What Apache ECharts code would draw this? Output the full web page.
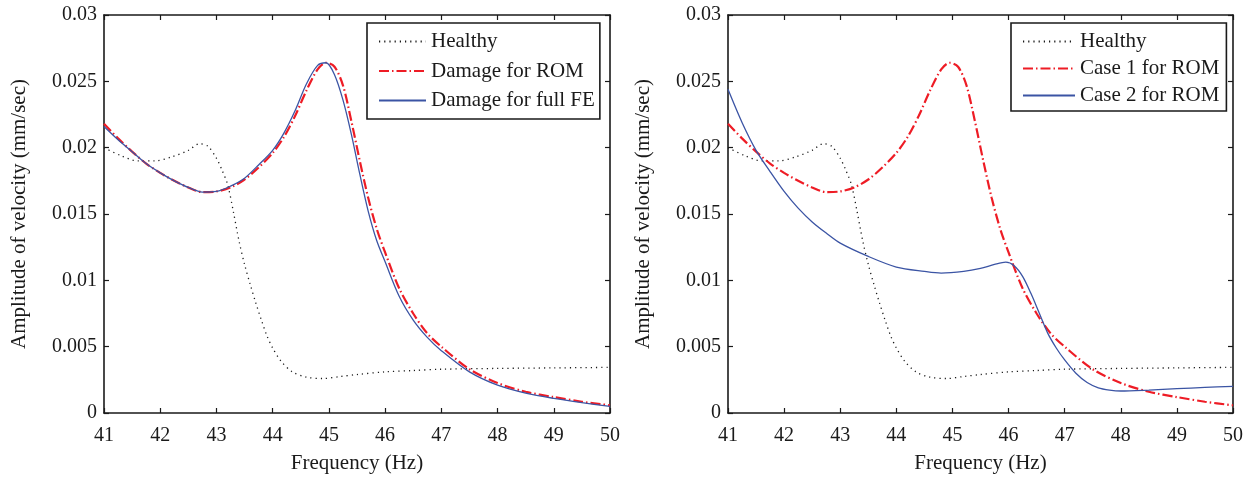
<!DOCTYPE html>
<html>
<head>
<meta charset="utf-8">
<script src="https://cdn.jsdelivr.net/npm/echarts@6/dist/echarts.min.js"></script>
<style>
html,body{margin:0;padding:0;background:#fff;}
#chart{width:1259px;height:484px;}
</style>
</head>
<body>
<div id="chart"></div>
<script>
// ---- data ----
const xTickLabels = ['41','42','43','44','45','46','47','48','49','50'];
const yTickLabels = ['0','0.005','0.01','0.015','0.02','0.025','0.03'];

const healthyX = [41, 41.3, 41.6, 41.9, 42.2, 42.5, 42.7, 42.85, 43.0, 43.1, 43.2, 43.3, 43.4, 43.5, 43.6, 43.7, 43.8, 43.9, 44.0, 44.15, 44.35, 44.6, 44.9, 45.2, 45.5, 46, 46.5, 47, 48, 49, 50];
const healthyY = [0.0200, 0.0194, 0.0190, 0.0190, 0.0193, 0.0198, 0.0203, 0.0201, 0.0192, 0.0183, 0.0172, 0.0152, 0.0130, 0.0112, 0.0097, 0.0083, 0.0070, 0.0058, 0.0049, 0.0039, 0.0031, 0.0027, 0.0026, 0.00275, 0.0029, 0.0031, 0.0032, 0.0033, 0.00336, 0.0034, 0.00344];

const damageX = [41, 41.25, 41.5, 41.75, 42, 42.25, 42.5, 42.75, 43, 43.25, 43.5, 43.75, 44, 44.2, 44.4, 44.6, 44.8, 44.95, 45.1, 45.25, 45.4, 45.55, 45.7, 45.85, 46, 46.25, 46.5, 46.75, 47, 47.5, 48, 48.5, 49, 49.5, 50];
const romDamageY = [0.0218, 0.0207, 0.0197, 0.0188, 0.0181, 0.0175, 0.0170, 0.01665, 0.0167, 0.0170, 0.0176, 0.0185, 0.0196, 0.0208, 0.0224, 0.0243, 0.0259, 0.0264, 0.0261, 0.0247, 0.0220, 0.0190, 0.0162, 0.0139, 0.0121, 0.0094, 0.0075, 0.0060, 0.0050, 0.0033, 0.00226, 0.0016, 0.0012, 0.00085, 0.00058];
const fullFeDamageY = [0.0216, 0.0206, 0.0197, 0.0188, 0.0181, 0.0175, 0.0170, 0.01665, 0.0167, 0.0171, 0.0177, 0.0187, 0.0198, 0.0211, 0.0228, 0.0248, 0.0262, 0.0264, 0.0255, 0.0236, 0.0210, 0.0180, 0.0152, 0.0130, 0.0114, 0.0088, 0.0070, 0.0057, 0.0047, 0.0031, 0.0021, 0.0015, 0.0011, 0.00078, 0.0005];

const case2X = [41, 41.25, 41.5, 41.75, 42, 42.25, 42.5, 42.75, 43, 43.5, 44, 44.5, 44.8, 45.2, 45.5, 45.75, 45.95, 46.1, 46.25, 46.4, 46.55, 46.7, 46.85, 47, 47.2, 47.4, 47.6, 47.8, 48, 48.5, 49, 49.5, 50];
const case2Y = [0.0244, 0.0219, 0.0198, 0.0182, 0.0167, 0.01544, 0.0144, 0.01356, 0.0128, 0.0118, 0.0110, 0.01067, 0.01054, 0.01067, 0.0109, 0.0112, 0.01137, 0.0111, 0.0103, 0.0090, 0.0075, 0.0060, 0.0049, 0.0040, 0.0030, 0.0023, 0.0019, 0.00173, 0.00166, 0.00173, 0.00183, 0.00193, 0.0020];

// ---- helpers ----
const zip = (xs, ys) => xs.map((x, i) => [x, ys[i]]);
const FONT = 'Liberation Serif';
const BLACK = '#1a1a1a';
const RED = '#ee1c25';
const BLUE = '#3b54a4';

function mainX(grid) {
  return {
    type: 'value', gridIndex: grid, min: 41, max: 50, interval: 1,
    name: 'Frequency (Hz)', nameLocation: 'middle', nameGap: 40,
    nameTextStyle: { fontFamily: FONT, fontSize: 21, color: BLACK },
    axisLine: { show: true, onZero: false, lineStyle: { color: BLACK, width: 1.6 } },
    axisTick: { show: true, inside: true, length: 5, lineStyle: { color: BLACK, width: 1.2 } },
    axisLabel: { margin: 13, fontFamily: FONT, fontSize: 20, color: BLACK,
      formatter: v => xTickLabels[Math.round(v - 41)] },
    splitLine: { show: false }
  };
}
function topX(grid) {
  return {
    type: 'value', gridIndex: grid, position: 'top', min: 41, max: 50, interval: 1,
    axisLine: { show: true, onZero: false, lineStyle: { color: BLACK, width: 1.6 } },
    axisTick: { show: true, inside: true, length: 5, lineStyle: { color: BLACK, width: 1.2 } },
    axisLabel: { show: false }, splitLine: { show: false }
  };
}
function mainY(grid) {
  return {
    type: 'value', gridIndex: grid, min: 0, max: 0.03, interval: 0.005,
    name: 'Amplitude of velocity (mm/sec)', nameLocation: 'middle', nameGap: 74,
    nameTextStyle: { fontFamily: FONT, fontSize: 21, color: BLACK },
    axisLine: { show: true, onZero: false, lineStyle: { color: BLACK, width: 1.6 } },
    axisTick: { show: true, inside: true, length: 5, lineStyle: { color: BLACK, width: 1.2 } },
    axisLabel: { margin: 7, fontFamily: FONT, fontSize: 20, color: BLACK,
      formatter: v => yTickLabels[Math.round(v / 0.005)] },
    splitLine: { show: false }
  };
}
function rightY(grid) {
  return {
    type: 'value', gridIndex: grid, position: 'right', min: 0, max: 0.03, interval: 0.005,
    axisLine: { show: true, onZero: false, lineStyle: { color: BLACK, width: 1.6 } },
    axisTick: { show: true, inside: true, length: 5, lineStyle: { color: BLACK, width: 1.2 } },
    axisLabel: { show: false }, splitLine: { show: false }
  };
}
function line(name, xi, yi, data, color, width, type, z) {
  return {
    name, type: 'line', xAxisIndex: xi, yAxisIndex: yi, data,
    smooth: 0.3, symbol: 'none', showSymbol: false, animation: false, z: z,
    lineStyle: { color, width, type },
    itemStyle: { color }
  };
}
const dotted = [1.2, 4];
const dashDot = [10, 3, 1.5, 3];

const legendText = { fontFamily: FONT, fontSize: 21, color: BLACK, lineHeight: 21 };
const hiddenSymbol = { opacity: 0, color: 'rgba(0,0,0,0)', borderWidth: 0 };

const option = {
  backgroundColor: '#fff',
  animation: false,
  grid: [
    { left: 104, top: 15, width: 506, height: 398 },
    { left: 728, top: 15, width: 505, height: 398 }
  ],
  xAxis: [mainX(0), topX(0), mainX(1), topX(1)],
  yAxis: [mainY(0), rightY(0), mainY(1), rightY(1)],
  legend: [
    {
      left: 367, top: 23, orient: 'vertical', itemGap: 8.5,
      itemWidth: 47, itemHeight: 14,
      padding: [8, 5, 8, 11],
      borderColor: BLACK, borderWidth: 1.6, backgroundColor: '#fff',
      itemStyle: hiddenSymbol,
      textStyle: legendText,
      data: ['Healthy', 'Damage for ROM', 'Damage for full FE']
    },
    {
      left: 1011, top: 23, orient: 'vertical', itemGap: 6,
      itemWidth: 52, itemHeight: 14,
      padding: [8, 7, 5, 11],
      borderColor: BLACK, borderWidth: 1.6, backgroundColor: '#fff',
      itemStyle: hiddenSymbol,
      textStyle: legendText,
      data: ['Healthy ', 'Case 1 for ROM', 'Case 2 for ROM']
    }
  ],
  series: [
    line('Healthy', 0, 0, zip(healthyX, healthyY), BLACK, 1.3, dotted, 2),
    line('Damage for ROM', 0, 0, zip(damageX, romDamageY), RED, 2.2, dashDot, 3),
    line('Damage for full FE', 0, 0, zip(damageX, fullFeDamageY), BLUE, 1.3, 'solid', 4),
    line('Healthy ', 2, 2, zip(healthyX, healthyY), BLACK, 1.3, dotted, 2),
    line('Case 1 for ROM', 2, 2, zip(damageX, romDamageY), RED, 2.2, dashDot, 3),
    line('Case 2 for ROM', 2, 2, zip(case2X, case2Y), BLUE, 1.3, 'solid', 4)
  ]
};

const chart = echarts.init(document.getElementById('chart'), null, { renderer: 'canvas' });
chart.setOption(option);
</script>
</body>
</html>
